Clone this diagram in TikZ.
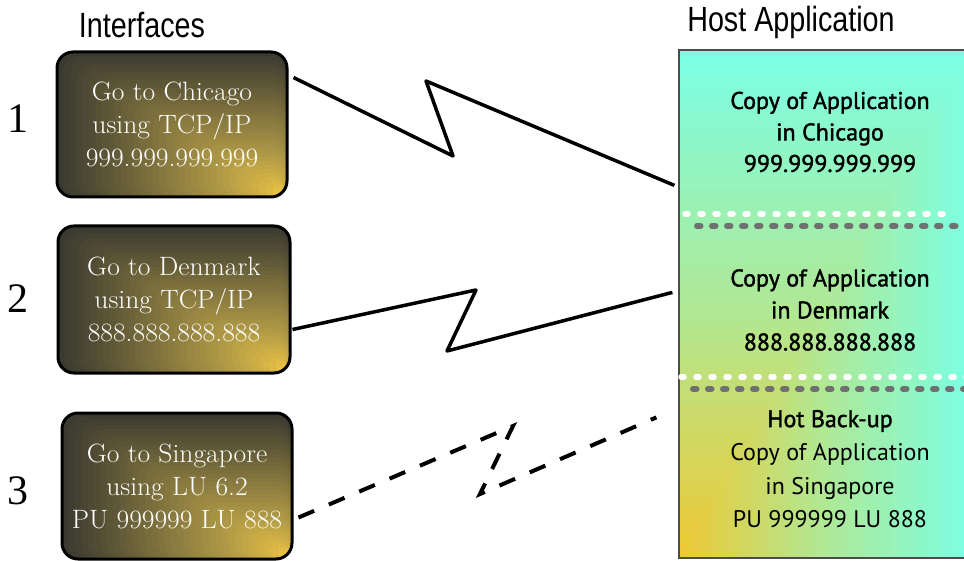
\documentclass[tikz,border=0pt]{standalone}
\usepackage{fontspec}
\usetikzlibrary{calc}
\newfontfamily\hostfont{PT Sans}
\newfontfamily\hostsemi[FakeBold=1.6]{PT Sans}
\newfontfamily\headfont[FakeStretch=0.82]{Liberation Sans}
\newfontfamily\numfont{Liberation Serif}
\newfontfamily\boxfont[FakeStretch=1.04]{Latin Modern Roman}

% interface box colours (dark corner -> olive -> gold)
\definecolor{ifdark}{HTML}{3A3A30}
\definecolor{ifmid}{HTML}{B09A46}
\definecolor{ifyel}{HTML}{F2C844}
% host panel colours (gold corner -> light green -> aqua)
\definecolor{hoyel}{HTML}{F0C830}
\definecolor{homid}{HTML}{B0E894}
\definecolor{hocyan}{HTML}{7CFFE4}
\definecolor{dotgray}{HTML}{707070}

\tikzset{
  % rectangular gradient centred on the lower right corner
  ifgrad/.style={path picture={
    \foreach \i in {0,...,35}{
      \pgfmathsetmacro\t{1-\i/36}
      \pgfmathsetmacro\pa{min(100,max(0,(\t-0.3)/0.7*100))}
      \pgfmathsetmacro\pb{min(100,max(0,\t/0.3*100))}
      \colorlet{bandc}{ifmid!\pb!ifyel}
      \colorlet{bandc}{ifdark!\pa!bandc}
      \fill[bandc] ($(path picture bounding box.south east)!\t!(path picture bounding box.north west)$)
        rectangle (path picture bounding box.south east);
    }}},
  % rectangular gradient centred on the lower left corner
  hostgrad/.style={path picture={
    \foreach \i in {0,...,39}{
      \pgfmathsetmacro\t{1-\i/40}
      \pgfmathsetmacro\pa{min(100,max(0,(\t-0.5)/0.5*100))}
      \pgfmathsetmacro\pb{min(100,max(0,\t/0.5*100))}
      \colorlet{bandc}{homid!\pb!hoyel}
      \colorlet{bandc}{hocyan!\pa!bandc}
      \fill[bandc] ($(path picture bounding box.south west)!\t!(path picture bounding box.north east)$)
        rectangle (path picture bounding box.south west);
    }}},
  ifbox/.style={draw=black, line width=3pt, rounded corners=16pt, ifgrad,
    inner sep=0pt, text=white, align=center,
    font=\boxfont\fontsize{26.5}{33}\selectfont},
  hostpanel/.style={draw=black!70, line width=1.2pt, hostgrad, inner sep=0pt},
  hosttext/.style={align=center, text=black, font=\hostfont\fontsize{24}{33.5}\selectfont},
  heading/.style={font=\headfont\fontsize{35}{38}\selectfont, text=black},
  numlabel/.style={font=\numfont\fontsize{42}{46}\selectfont, text=black},
  bolt/.style={draw=black, line width=3.5pt, line join=round},
  dashbolt/.style={draw=black, line width=4pt, dash pattern=on 17pt off 16pt},
  wdots/.style={draw=white, line width=5.5pt, line cap=round, dash pattern=on 3pt off 12pt},
  gdots/.style={draw=dotgray, line width=6pt, line cap=round, dash pattern=on 3.5pt off 11.5pt},
}

\begin{document}
\begin{tikzpicture}[x=1pt, y=-1pt]
\useasboundingbox (0,0) rectangle (964,561);

% headings
\node[heading] (hif) at (142,25) {Interfaces};
\node[heading] (hhost) at (791,22) {Host Application};

% host application panel (runs off the right edge)
\node[hostpanel, minimum width=296pt, minimum height=508pt] (host) at (827,304) {};

% separators between the three copies
\draw[wdots] (685,214) -- (952,214);
\draw[gdots] (697,226) -- (975,226);
\draw[wdots] (681,377) -- (975,377);
\draw[gdots] (693,389) -- (975,389);

% texts of the host panel
\node[hosttext, font=\hostsemi\fontsize{24}{31.5}\selectfont] (hc) at (830,132)
  {Copy of Application\\in Chicago\\999.999.999.999};
\node[hosttext, font=\hostsemi\fontsize{24}{32}\selectfont] (hd) at (830,310)
  {Copy of Application\\in Denmark\\888.888.888.888};
\node[hosttext] (hs) at (830,469)
  {{\hostsemi Hot Back-up}\\Copy of Application\\in Singapore\\PU 999999 LU 888};

% interface boxes
\node[ifbox, minimum width=230pt, minimum height=145pt] (if1) at (172,124.5)
  {Go to Chicago\\using TCP/IP\\999.999.999.999};
\node[ifbox, minimum width=232pt, minimum height=147pt] (if2) at (174,299.5)
  {Go to Denmark\\using TCP/IP\\888.888.888.888};
\node[ifbox, minimum width=230pt, minimum height=146pt] (if3) at (177,486)
  {Go to Singapore\\using LU 6.2\\PU 999999 LU 888};

% row numbers
\node[numlabel] (n1) at (18,119) {1};
\node[numlabel] (n2) at (18,299) {2};
\node[numlabel] (n3) at (18,491) {3};

% links from the interfaces to the host
\draw[bolt] ([xshift=5pt,yshift=-27pt]if1.north east) -- (453,156) -- (426,81)
  -- ([xshift=-4pt,yshift=-136pt]host.north west);
\draw[bolt] ([xshift=1pt,yshift=-105pt]if2.north east) -- (476,290) -- (447,351)
  -- ([xshift=-6pt,yshift=-243pt]host.north west);
\draw[dashbolt] ([xshift=5pt,yshift=-106pt]if3.north east) -- (513,426) -- (480,494)
  -- ([xshift=-22pt,yshift=-368pt]host.north west);
\end{tikzpicture}
\end{document}
